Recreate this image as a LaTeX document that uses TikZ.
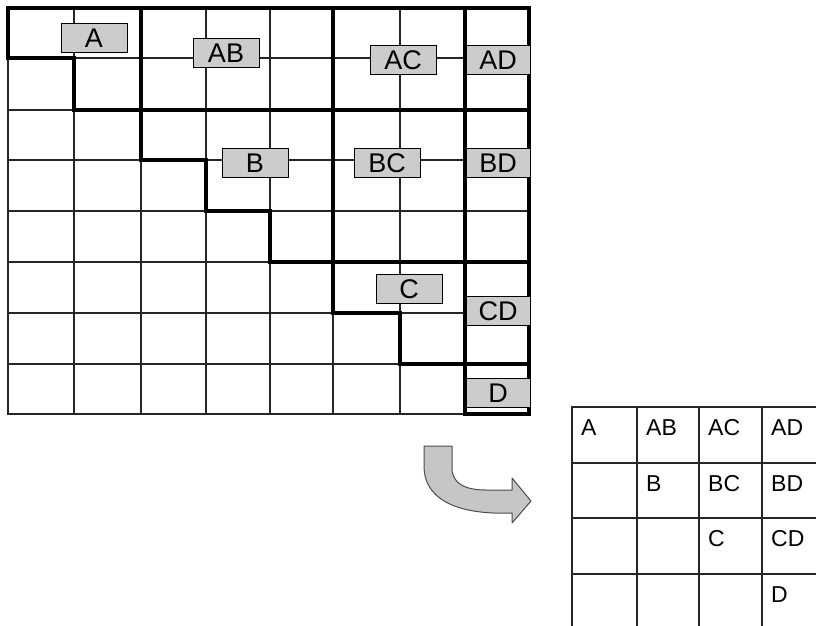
\documentclass[tikz,border=0pt]{standalone}
\usepackage{fontspec}
\setmainfont{Liberation Sans}
\usetikzlibrary{positioning}

\begin{document}
\begin{tikzpicture}[
  x=1pt, y=-1pt,
  gridline/.style={line width=1.3pt, black!85},
  blockline/.style={line width=4pt, line join=miter},
  lbl/.style={draw, fill=gray!40, line width=0.8pt, minimum width=66pt, minimum height=29pt, inner sep=0pt, font=\fontsize{27}{30}\selectfont},
  lblnarrow/.style={lbl, minimum width=64pt},
  cell/.style={anchor=base west, inner sep=0pt, font=\fontsize{23}{26}\selectfont},
  bendarrow/.style={fill=gray!45, draw=black!70, line width=1pt, line join=round}
]
\useasboundingbox (0,0) rectangle (816,626);
\clip (0,0) rectangle (816,626);

% big matrix, thin grid
\foreach \gx in {74,141,206,270,333,400,465}
  \draw[gridline] (\gx,8) -- (\gx,414);
\foreach \gy in {58,110,160,211,262,313,364}
  \draw[gridline] (8,\gy) -- (529,\gy);
\draw[gridline, line width=1.8pt] (8,8) rectangle (529,414);

% blocks and staircase
\draw[blockline] (8,8) -- (529,8) -- (529,414) -- (465,414) -- (465,364) -- (400,364)
  -- (400,313) -- (333,313) -- (333,262) -- (270,262) -- (270,211) -- (206,211)
  -- (206,160) -- (141,160) -- (141,110) -- (74,110) -- (74,58) -- (8,58) -- cycle;
\draw[blockline] (141,8) -- (141,110) -- (529,110);
\draw[blockline] (333,8) -- (333,262) -- (529,262);
\draw[blockline] (465,8) -- (465,364) -- (529,364);

% block labels
\node[lbl] (a) at (94,38) {A};
\node[lbl] (ab) at (226,53) {AB};
\node[lbl] (ac) at (403,60) {AC};
\node[lblnarrow] (ad) at (498,60) {AD};
\node[lbl] (b) at (255,163) {B};
\node[lbl] (bc) at (387,163) {BC};
\node[lblnarrow] (bd) at (498,163) {BD};
\node[lbl] (c) at (409,289) {C};
\node[lblnarrow] (cd) at (498,311) {CD};
\node[lblnarrow] (d) at (498,393) {D};

% bent arrow
\draw[bendarrow] (424,446) -- (452,446) -- (452,468) .. controls (452,484) and (466,490) .. (486,490)
  -- (512,490) -- (512,478) -- (531,501) -- (512,523) -- (512,513)
  .. controls (462,515) and (424,502) .. (424,466) -- cycle;

% small matrix
\foreach \gx in {637,699,762,825}
  \draw[gridline] (\gx,407) -- (\gx,630);
\foreach \gy in {463,518,574}
  \draw[gridline] (572,\gy) -- (825,\gy);
\draw[gridline, line width=1.8pt] (572,630) -- (572,407) -- (825,407);

\node[cell] (ma) at (581,435) {A};
\node[cell] (mab) at (646,435) {AB};
\node[cell] (mac) at (708,435) {AC};
\node[cell] (mad) at (771,435) {AD};
\node[cell] (mb) at (646,491) {B};
\node[cell] (mbc) at (708,491) {BC};
\node[cell] (mbd) at (771,491) {BD};
\node[cell] (mc) at (708,546) {C};
\node[cell] (mcd) at (771,546) {CD};
\node[cell] (md) at (771,602) {D};
\end{tikzpicture}
\end{document}
